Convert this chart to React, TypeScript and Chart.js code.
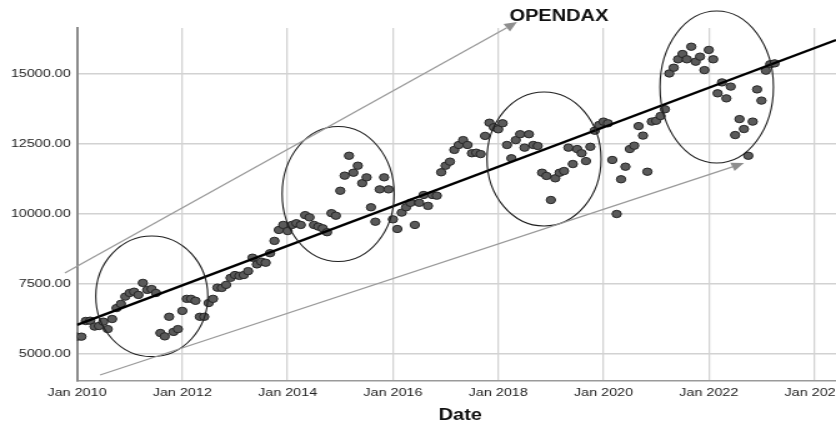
import React, { useEffect, useRef } from 'react';
import { Chart, registerables } from 'chart.js';

Chart.register(...registerables);

// ---------------- data ----------------
const START_YEAR = 2010; // monthly observations from Jan 2010
const values = [
  5620, 5620, 6180, 6190, 5980, 6000, 6155, 5890, 6250, 6640, 6790, 7050,
  7180, 7225, 7110, 7540, 7290, 7320, 7180, 5750, 5630, 6330, 5790, 5890,
  6540, 6970, 6970, 6900, 6330, 6330, 6820, 6970, 7370, 7360, 7470, 7720,
  7820, 7790, 7820, 7960, 8440, 8200, 8300, 8260, 8600, 9040, 9430, 9610,
  9390, 9610, 9670, 9610, 9960, 9880, 9610, 9550, 9490, 9350, 10030, 9940,
  10830, 11370, 12080, 11475, 11725, 11100, 11310, 10240, 9725, 10880, 11310, 10880,
  9810, 9465, 10050, 10240, 10400, 9610, 10400, 10680, 10290, 10680, 10655, 11490,
  11725, 11870, 12290, 12465, 12640, 12465, 12170, 12190, 12140, 12790, 13260, 13100,
  13025, 13240, 12465, 11990, 12640, 12850, 12370, 12850, 12465, 12430, 11475, 11360,
  10500, 11275, 11475, 11535, 12370, 11785, 12320, 12170, 11890, 12400, 12975, 13180,
  13300, 13240, 11930, 10000, 11240, 11690, 12320, 12440, 13140, 12800, 11510, 13300,
  13330, 13500, 13740, 15020, 15225, 15525, 15715, 15525, 15975, 15440, 15620, 15140,
  15860, 15525, 14310, 14700, 14130, 14550, 12820, 13390, 13035, 12080, 13300, 14450,
  14050, 15120, 15350, 15380,
];

const xTickYears = [2010, 2012, 2014, 2016, 2018, 2020, 2022, 2024];
const yTickValues = [5000, 7500, 10000, 12500, 15000];
const xMin = 2010;
const xMax = 2024.416;
const yMin = 4036;
const yMax = 16643;

// fitted trend line (end points)
const fitYears = [2010, 2024.416];
const fitValues = [6040, 16215];

// annotation ellipses (centre and half-extent, in data units)
const ellipseCenterYears = [2011.42, 2014.96, 2018.87, 2022.15];
const ellipseCenterValues = [7060, 10715, 11965, 14536];
const ellipseHalfYears = [1.064, 1.064, 1.083, 1.077];
const ellipseHalfValues = [2155, 2411, 2393, 2714];

// annotation arrows
const arrowFromYears = [2009.77, 2010.437];
const arrowFromValues = [7894, 4251];
const arrowToYears = [2018.357, 2022.668];
const arrowToValues = [16857, 11822];

const titleText = 'OPENDAX';
const xAxisTitle = 'Date';

// ---------------- layout ----------------
const OUTER_W = 836;
const OUTER_H = 424;
const INNER_W = 669;
const STRETCH = OUTER_W / INNER_W;
const FONT = "'Liberation Sans', Arial, sans-serif";

export default function App() {
  const ref = useRef<HTMLCanvasElement>(null);

  useEffect(() => {
    document.body.style.margin = '0';
    const canvas = ref.current;
    if (!canvas) return;

    const points = values.map((v, i) => ({ x: START_YEAR + i / 12, y: v }));
    const fit = fitYears.map((t, i) => ({ x: t, y: fitValues[i] }));

    const overlay = {
      id: 'overlay',
      afterDatasetsDraw(chart: any) {
        const ctx = chart.ctx;
        const xs = chart.scales.x;
        const ys = chart.scales.y;
        ctx.save();
        // ellipses
        ctx.strokeStyle = '#1e1e1e';
        ctx.lineWidth = 1.1;
        ellipseCenterYears.forEach((cxv, i) => {
          const cx = xs.getPixelForValue(cxv);
          const cy = ys.getPixelForValue(ellipseCenterValues[i]);
          const rx = Math.abs(xs.getPixelForValue(cxv + ellipseHalfYears[i]) - cx);
          const ry = Math.abs(ys.getPixelForValue(ellipseCenterValues[i] + ellipseHalfValues[i]) - cy);
          ctx.beginPath();
          ctx.ellipse(cx, cy, rx, ry, 0, 0, Math.PI * 2);
          ctx.stroke();
        });
        // arrows
        ctx.strokeStyle = '#9a9a9a';
        ctx.fillStyle = '#8e8e8e';
        ctx.lineWidth = 1.3;
        arrowFromYears.forEach((fx, i) => {
          const x0 = xs.getPixelForValue(fx);
          const y0 = ys.getPixelForValue(arrowFromValues[i]);
          const x1 = xs.getPixelForValue(arrowToYears[i]);
          const y1 = ys.getPixelForValue(arrowToValues[i]);
          const ang = Math.atan2(y1 - y0, x1 - x0);
          const len = 10;
          const half = 4.5;
          const bx = x1 - Math.cos(ang) * len;
          const by = y1 - Math.sin(ang) * len;
          ctx.beginPath();
          ctx.moveTo(x0, y0);
          ctx.lineTo(bx, by);
          ctx.stroke();
          ctx.beginPath();
          ctx.moveTo(x1, y1);
          ctx.lineTo(bx + Math.sin(ang) * half, by - Math.cos(ang) * half);
          ctx.lineTo(bx - Math.sin(ang) * half, by + Math.cos(ang) * half);
          ctx.closePath();
          ctx.fill();
        });
        ctx.restore();
      },
      afterDraw(chart: any) {
        const ctx = chart.ctx;
        const xs = chart.scales.x;
        const ys = chart.scales.y;
        const area = chart.chartArea;
        ctx.save();
        ctx.fillStyle = '#111';
        // title next to the upper arrow tip
        ctx.font = `bold 16px ${FONT}`;
        ctx.textAlign = 'left';
        ctx.textBaseline = 'alphabetic';
        const tx = xs.getPixelForValue(arrowToYears[0]) - 6;
        const ty = ys.getPixelForValue(arrowToValues[0]) - 1;
        ctx.fillText(titleText, tx, ty);
        // x axis title
        ctx.font = `bold 16px ${FONT}`;
        ctx.textAlign = 'center';
        ctx.textBaseline = 'middle';
        ctx.fillText(xAxisTitle, (area.left + area.right) / 2 + 3, 416);
        ctx.restore();
      },
    };

    const chart = new Chart(canvas, {
      type: 'scatter',
      data: {
        datasets: [
          {
            type: 'line',
            data: fit,
            borderColor: '#000',
            borderWidth: 2.4,
            pointRadius: 0,
            fill: false,
          } as any,
          {
            data: points,
            pointRadius: 3.7,
            pointBackgroundColor: '#5a5a5a',
            pointBorderColor: '#262626',
            pointBorderWidth: 1,
          },
        ],
      },
      options: {
        animation: false,
        responsive: true,
        maintainAspectRatio: false,
        layout: { autoPadding: false, padding: { top: 28, right: 0, left: 0, bottom: 0 } },
        plugins: {
          legend: { display: false },
          tooltip: { enabled: false },
        },
        scales: {
          x: {
            type: 'linear',
            min: xMin,
            max: xMax,
            afterBuildTicks: (s: any) => {
              s.ticks = xTickYears.map((v) => ({ value: v }));
            },
            afterFit: (s: any) => {
              s.height = OUTER_H - 381;
              s.paddingLeft = 0;
              s.paddingRight = 0;
            },
            ticks: {
              autoSkip: false,
              maxRotation: 0,
              minRotation: 0,
              padding: 5,
              color: '#222',
              font: { family: FONT, size: 11.5 },
              callback: (v: any) => `Jan ${v}`,
            },
            grid: {
              color: '#d2d2d2',
              lineWidth: 1.3,
              drawTicks: false,
            },
            border: { color: '#9a9a9a', width: 1.5 },
          },
          y: {
            type: 'linear',
            min: yMin,
            max: yMax,
            afterBuildTicks: (s: any) => {
              s.ticks = yTickValues.map((v) => ({ value: v }));
            },
            afterFit: (s: any) => {
              s.width = 77 / STRETCH;
              s.paddingTop = 0;
              s.paddingBottom = 0;
            },
            ticks: {
              padding: 5,
              color: '#222',
              font: { family: FONT, size: 11.5 },
              callback: (v: any) => Number(v).toFixed(2),
            },
            grid: {
              color: '#d2d2d2',
              lineWidth: 1.5,
              drawTicks: false,
            },
            border: { color: '#8a8a8a', width: 2 },
          },
        },
      },
      plugins: [overlay],
    } as any);

    return () => chart.destroy();
  }, []);

  return (
    <div style={{ width: OUTER_W, height: OUTER_H, overflow: 'hidden', background: '#fff' }}>
      <div
        style={{
          width: INNER_W,
          height: OUTER_H,
          position: 'relative',
          transform: `scaleX(${STRETCH})`,
          transformOrigin: '0 0',
        }}
      >
        <canvas ref={ref} />
      </div>
    </div>
  );
}
